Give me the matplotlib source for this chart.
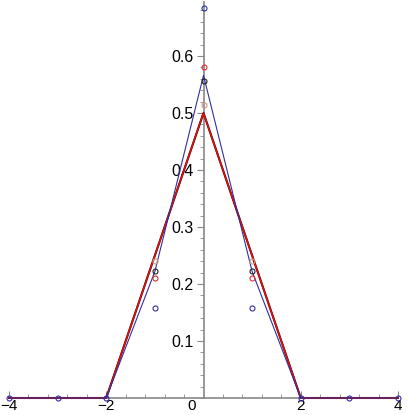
import matplotlib
matplotlib.use("Agg")
import matplotlib.pyplot as plt
from matplotlib.ticker import MultipleLocator, FixedLocator

plt.rcParams['font.family'] = ['Liberation Sans', 'DejaVu Sans']

# Data
x_nodes = [-4, -3, -2, -1, 0, 1, 2, 3, 4]
red_line = [0, 0, 0, 0.25, 0.5, 0.25, 0, 0, 0]
blue_line = [0, 0, 0, 0.222, 0.566, 0.222, 0, 0, 0]

circ_x = [-1, 0, 1]
circ_tan = [0.241, 0.514, 0.241]
circ_black = [0.223, 0.557, 0.223]
circ_red = [0.211, 0.581, 0.211]
circ_blue = [0.158, 0.684, 0.158]
zero_x = [-4, -3, -2, 2, 3, 4]
zero_y = [0, 0, 0, 0, 0, 0]

W, H = 407, 415
fig = plt.figure(figsize=(W / 100, H / 100), dpi=100)
ax = fig.add_axes([9 / W, 17 / H, 389 / W, 396 / H])
ax.set_xlim(-4, 4)
ax.set_ylim(0, 396 / 570)

ax.plot(x_nodes, red_line, color='#330000', lw=1.5, zorder=3, clip_on=False)
ax.plot(x_nodes, red_line, color='#e01010', lw=1.1, zorder=4, clip_on=False)
ax.plot(x_nodes, blue_line, color='#3030a0', lw=0.8, zorder=5, clip_on=False)

mk = dict(marker='o', ls='none', ms=3.6, mfc='none', mew=0.8, clip_on=False, zorder=6)
ax.plot(circ_x, circ_tan, mec='#d09a80', **mk)
ax.plot(circ_x, circ_black, mec='#222222', **mk)
ax.plot(circ_x, circ_red, mec='#e03030', **mk)
ax.plot(circ_x, circ_blue, mec='#3030a0', **mk)
ax.plot(zero_x, zero_y, mec='#3030a0', **mk)

for s in ['top', 'right']:
    ax.spines[s].set_visible(False)
ax.spines['left'].set_position(('data', 0))
ax.spines['left'].set_color('#888888')
ax.spines['bottom'].set_color('#888888')
ax.spines['left'].set_linewidth(1.2)
ax.spines['bottom'].set_linewidth(1.2)
ax.spines['left'].set_zorder(1)
ax.spines['bottom'].set_zorder(1)

ax.xaxis.set_major_locator(FixedLocator([-4, -2, 2, 4]))
ax.xaxis.set_minor_locator(MultipleLocator(0.4))
ax.yaxis.set_major_locator(FixedLocator([0.1, 0.2, 0.3, 0.4, 0.5, 0.6]))
ax.yaxis.set_minor_locator(MultipleLocator(0.02))
ax.set_xticklabels(['\u22124', '\u22122', '2', '4'])
ax.set_yticklabels(['0.1', '0.2', '0.3', '0.4', '0.5', '0.6'])

ax.tick_params(axis='x', which='both', direction='in', colors='#888888', labelcolor='black', labelsize=11, pad=1)
ax.tick_params(axis='x', which='major', length=5, width=0.8)
ax.tick_params(axis='x', which='minor', length=3, width=0.6)
ax.tick_params(axis='y', which='both', direction='out', colors='#888888', labelcolor='black', labelsize=11.5, pad=2)
ax.tick_params(axis='y', which='major', length=5, width=0.8)
ax.tick_params(axis='y', which='minor', length=3, width=0.6)

ax.annotate('0', xy=(0, 0), xytext=(-12, -1), textcoords='offset pixels',
            ha='center', va='top', fontsize=11, annotation_clip=False)

fig.savefig('out.png', dpi=100)
